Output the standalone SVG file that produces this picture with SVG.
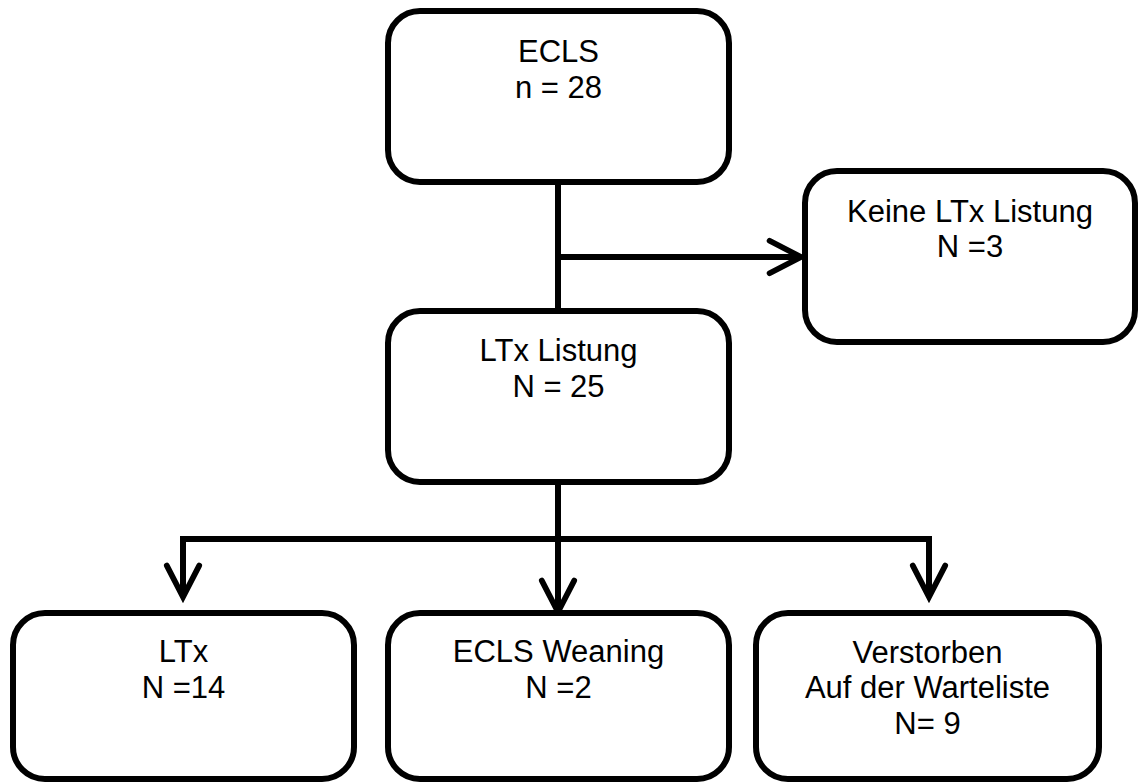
<svg xmlns="http://www.w3.org/2000/svg" width="1141" height="782" viewBox="0 0 1141 782">
  <style>
    .box { fill: #ffffff; stroke: #000000; stroke-width: 6; }
    .lbl { font-family: "Liberation Sans", Arial, sans-serif; font-size: 31px; fill: #000000; text-anchor: middle; }
    .conn { fill: none; stroke: #000000; stroke-width: 6; stroke-linejoin: miter; }
  </style>
  <defs>
    <marker id="chev" markerUnits="userSpaceOnUse" orient="auto" refX="0" refY="0" markerWidth="40" markerHeight="40" viewBox="-40 -20 42 40" overflow="visible">
      <path d="M-33,-17 L0,0 L-33,17" fill="none" stroke="#000000" stroke-width="6" stroke-linecap="round" stroke-linejoin="miter"/>
    </marker>
  </defs>
  <rect width="1141" height="782" fill="#ffffff"/>

  <g id="connectors">
    <path class="conn" d="M558,182 V311"/>
    <path class="conn" d="M558,257 H801" marker-end="url(#chev)"/>
    <path class="conn" d="M558,482 V612" marker-end="url(#chev)"/>
    <path class="conn" d="M561,539 H183 V597" marker-end="url(#chev)"/>
    <path class="conn" d="M555,539 H929 V597" marker-end="url(#chev)"/>
  </g>

  <g id="node-ecls">
    <rect class="box" x="388" y="11" width="341" height="171" rx="32" ry="32"/>
    <text class="lbl" x="558.5" y="62">ECLS</text>
    <text class="lbl" x="558.5" y="98">n = 28</text>
  </g>

  <g id="node-keine">
    <rect class="box" x="805" y="171" width="330" height="171" rx="32" ry="32"/>
    <text class="lbl" x="970" y="222">Keine LTx Listung</text>
    <text class="lbl" x="970" y="257">N =3</text>
  </g>

  <g id="node-listung">
    <rect class="box" x="388" y="311" width="341" height="171" rx="32" ry="32"/>
    <text class="lbl" x="558.5" y="361">LTx Listung</text>
    <text class="lbl" x="558.5" y="397">N = 25</text>
  </g>

  <g id="node-ltx">
    <rect class="box" x="13" y="613" width="341" height="166" rx="32" ry="32"/>
    <text class="lbl" x="183.5" y="662">LTx</text>
    <text class="lbl" x="183.5" y="698">N =14</text>
  </g>

  <g id="node-weaning">
    <rect class="box" x="388" y="613" width="341" height="166" rx="32" ry="32"/>
    <text class="lbl" x="558.5" y="662">ECLS Weaning</text>
    <text class="lbl" x="558.5" y="698">N =2</text>
  </g>

  <g id="node-verstorben">
    <rect class="box" x="756" y="613" width="343" height="166" rx="32" ry="32"/>
    <text class="lbl" x="927.5" y="663">Verstorben</text>
    <text class="lbl" x="927.5" y="698">Auf der Warteliste</text>
    <text class="lbl" x="927.5" y="734">N= 9</text>
  </g>
</svg>
